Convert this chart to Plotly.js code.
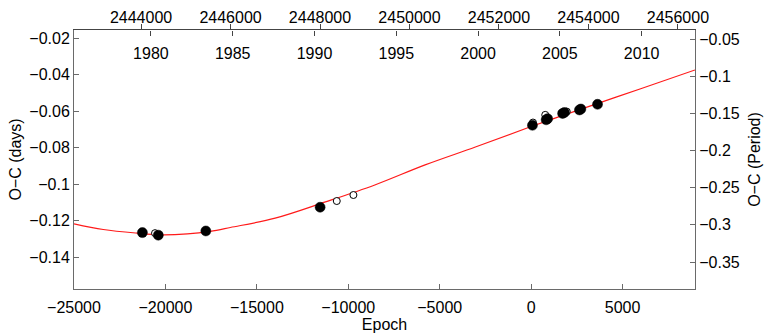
<!DOCTYPE html>
<html>
<head>
<meta charset="utf-8">
<script src="https://cdn.plot.ly/plotly-3.0.1.min.js"></script>
<style>html,body{margin:0;padding:0;background:#fff;}#chart{width:771px;height:335px;}</style>
</head>
<body>
<div id="chart"></div>
<script>
// Observed minima (primary markers: filled; secondary/other: open)
const filledEpoch = [-21260, -20390, -17790, -11540, 70, 820, 900, 1720, 1820, 2640, 2720, 3630];
const filledOC    = [-0.1265, -0.1279, -0.1256, -0.1126, -0.0677, -0.0647, -0.0641, -0.0612, -0.0607, -0.0593, -0.0588, -0.0562];
const openEpoch   = [-20570, -10630, -9720, 100, 770, 1950];
const openOC      = [-0.1268, -0.1092, -0.1059, -0.0662, -0.0620, -0.0602];
// Fitted curve
const fitEpoch = [-25000, -23400, -21550, -20300, -18800, -17550, -16450, -14000, -11250, -8550, -5800, -3050, 0, 3250, 5950, 8960];
const fitOC    = [-0.1217, -0.1248, -0.1268, -0.1277, -0.1272, -0.1258, -0.1237, -0.1186, -0.1097, -0.1004, -0.0894, -0.0796, -0.0684, -0.0571, -0.0478, -0.0374];
// Axis ranges
const epochRange = [-25000, 8960];
const jdRange    = [2442501, 2456382];
const yearRange  = [1975.30, 2013.26];
const ocDayRange = [-0.1574, -0.0155];
const ocPerRange = [-0.3863, -0.0379];

const FONT = {family: 'Liberation Sans, Arial, sans-serif', size: 16, color: '#000'};
const AX = '#6a6a6a';

const traces = [
  {x: fitEpoch, y: fitOC, mode: 'lines', line: {color: '#ff1a1a', width: 1.2, shape: 'spline', smoothing: 1}, xaxis: 'x', yaxis: 'y', hoverinfo: 'skip'},
  {x: openEpoch, y: openOC, mode: 'markers', marker: {size: 7, color: '#fff', line: {color: '#000', width: 1}}, xaxis: 'x', yaxis: 'y'},
  {x: filledEpoch, y: filledOC, mode: 'markers', marker: {size: 10, color: '#000', line: {color: '#000', width: 0.5}}, xaxis: 'x', yaxis: 'y'},
  {x: [], y: [], xaxis: 'x2', yaxis: 'y', mode: 'markers'},
  {x: [], y: [], xaxis: 'x3', yaxis: 'y', mode: 'markers'},
  {x: [], y: [], xaxis: 'x', yaxis: 'y2', mode: 'markers'}
];

const layout = {
  width: 771, height: 335,
  margin: {l: 74, r: 76, t: 30, b: 46},
  paper_bgcolor: '#fff', plot_bgcolor: '#fff',
  showlegend: false,
  font: FONT,
  xaxis: {
    range: epochRange, dtick: 5000, tick0: 0, tickformat: 'd',
    ticks: 'inside', ticklen: 5, tickcolor: AX, tickwidth: 1,
    showline: true, linecolor: AX, linewidth: 1, showgrid: false, zeroline: false,
    ticklabelstandoff: 4,
    title: {text: 'Epoch', font: FONT, standoff: 0},
    tickfont: FONT
  },
  xaxis2: {
    overlaying: 'x', side: 'top', anchor: 'y',
    range: jdRange, dtick: 2000, tick0: 2444000, tickformat: 'd',
    ticks: 'outside', ticklen: 5, tickcolor: '#444', tickwidth: 1,
    ticklabelstandoff: -5,
    showline: true, linecolor: '#444', linewidth: 1, showgrid: false, zeroline: false,
    tickfont: FONT
  },
  xaxis3: {
    overlaying: 'x', side: 'bottom', anchor: 'free', position: 1,
    range: yearRange, dtick: 5, tick0: 1980, tickformat: 'd',
    ticks: 'outside', ticklen: 5, tickcolor: '#444', tickwidth: 1,
    ticklabelstandoff: 4,
    showline: false, showgrid: false, zeroline: false,
    tickfont: FONT
  },
  yaxis: {
    range: ocDayRange, dtick: 0.02, tick0: 0,
    ticks: 'inside', ticklen: 5, tickcolor: AX, tickwidth: 1,
    showline: true, linecolor: AX, linewidth: 1, showgrid: false, zeroline: false,
    title: {text: 'O\u2212C (days)', font: FONT, standoff: 3},
    tickfont: FONT
  },
  yaxis2: {
    overlaying: 'y', side: 'right', anchor: 'x',
    range: ocPerRange, dtick: 0.05, tick0: 0,
    ticks: 'inside', ticklen: 5, tickcolor: AX, tickwidth: 1,
    showline: true, linecolor: AX, linewidth: 1, showgrid: false, zeroline: false,
    title: {text: 'O\u2212C (Period)', font: FONT, standoff: 10},
    tickfont: FONT
  }
};

Plotly.newPlot('chart', traces, layout, {staticPlot: true, displayModeBar: false});
</script>
</body>
</html>
